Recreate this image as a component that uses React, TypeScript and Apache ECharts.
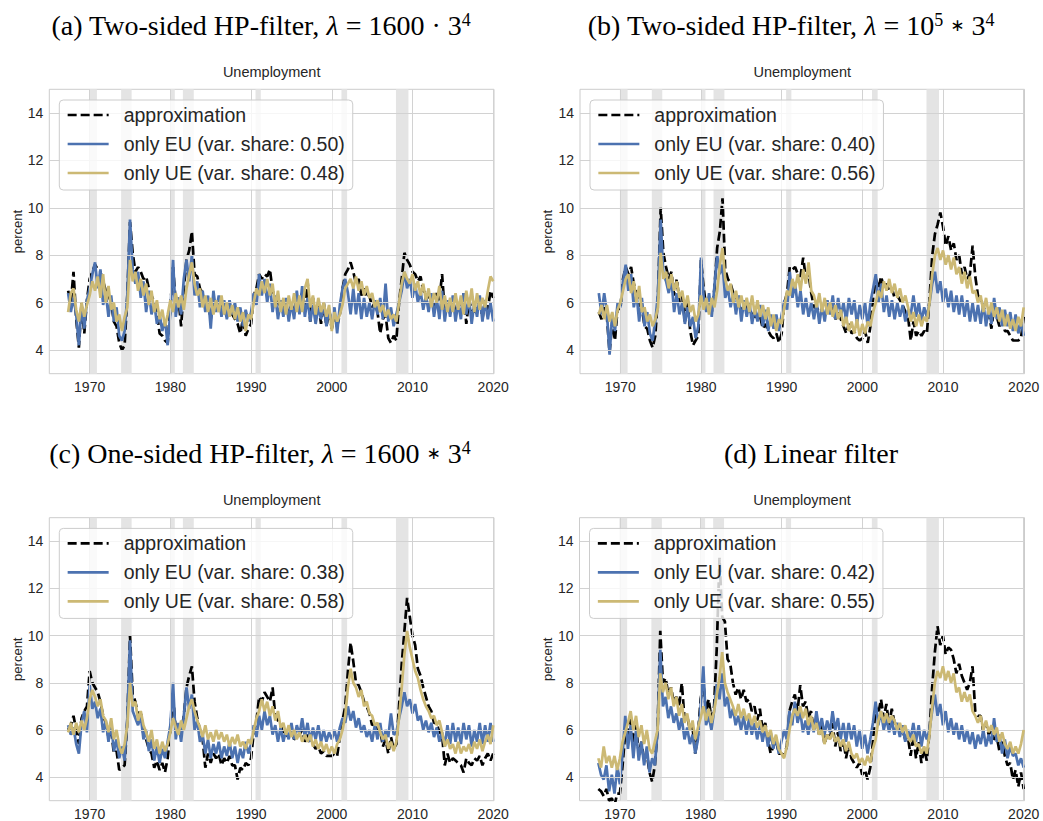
import React, { useEffect, useRef } from 'react';
import * as echarts from 'echarts';

// Sampling: every 4 months from 1967.33 to 2020.0
const START_YEAR = 1967 + 1 / 3;
const STEP = 1 / 3;

const RECESSIONS: [number, number][] = [
  [1969.95, 1970.9], [1973.9, 1975.2], [1980.0, 1980.55], [1981.55, 1982.9],
  [1990.55, 1991.2], [2001.2, 2001.9], [2007.95, 2009.5],
];
const X_TICKS = [1970, 1980, 1990, 2000, 2010, 2020];
const Y_TICKS = [4, 6, 8, 10, 12, 14];

// ---------- Panel (a) ----------
const AP_A = [
  6.5, 6.0,
  7.3, 5.3, 4.1, 6.0, 4.7, 6.1, 7.0, 7.3, 7.6, 7.4, 7.3, 6.9, 6.5, 6.3, 6.0,
  5.2, 5.0, 4.3, 4.0, 4.2, 6.3, 9.4, 8.1, 7.3, 7.5, 7.3, 7.0, 7.1, 6.6, 6.3,
  6.0, 5.6, 4.7, 4.6, 4.4, 4.3, 5.8, 7.5, 6.0, 6.2, 5.0, 6.6, 7.8, 8.2, 9.0,
  7.2, 7.1, 6.6, 6.4, 6.0, 6.0, 5.3, 6.1, 5.9, 6.0, 5.8, 5.7, 5.4, 5.6, 5.5,
  5.3, 5.1, 4.7, 5.3, 4.6, 4.9, 5.1, 6.3, 6.6, 7.2, 7.0, 7.2, 7.1, 7.4, 6.5,
  6.2, 6.0, 5.8, 5.8, 5.8, 5.6, 5.9, 5.6, 6.3, 6.0, 6.4, 5.9, 6.9, 5.2, 6.2,
  5.4, 6.0, 5.1, 6.0, 5.0, 5.6, 4.9, 5.4, 5.0, 5.5, 6.6, 7.2, 7.4, 7.7, 7.3,
  6.8, 7.0, 6.3, 6.6, 6.2, 6.3, 5.8, 6.0, 5.6, 4.7, 5.3, 5.5, 4.5, 4.3, 4.6,
  4.4, 6.0, 7.0, 8.1, 7.8, 7.6, 7.3, 7.2, 6.9, 7.1, 6.5, 6.4, 6.2, 6.3, 5.8,
  6.4, 6.1, 7.2, 5.6, 5.8, 5.6, 6.1, 5.6, 5.8, 5.6, 6.4, 5.1, 6.1, 5.7, 5.6,
  5.8, 6.2, 5.3, 6.1, 5.7, 6.5,
  6.2,
];
const EU_A = [
  6.4, 5.6,
  6.2, 5.5, 4.2, 5.9, 4.9, 6.1, 6.6, 7.2, 7.7, 6.6, 7.4, 5.9, 6.4, 5.4, 6.3,
  5.2, 5.8, 4.6, 4.4, 4.8, 6.3, 9.5, 7.4, 6.8, 7.3, 6.2, 6.9, 5.6, 6.5, 5.5,
  6.0, 5.1, 5.5, 4.8, 5.3, 4.2, 5.6, 7.8, 5.4, 6.2, 5.5, 7.0, 7.8, 6.9, 8.0,
  6.3, 6.9, 5.8, 6.5, 5.6, 6.3, 4.9, 6.5, 5.6, 6.3, 5.4, 6.1, 5.3, 6.1, 5.5,
  6.0, 5.2, 5.8, 5.0, 5.7, 5.2, 5.6, 6.4, 5.9, 7.2, 6.3, 7.0, 6.0, 6.8, 5.6,
  6.3, 5.3, 6.1, 5.4, 6.2, 5.2, 6.0, 5.3, 6.5, 5.5, 6.7, 5.4, 6.2, 5.2, 5.9,
  5.1, 5.8, 5.3, 6.0, 5.0, 5.7, 5.2, 5.8, 4.7, 5.9, 6.6, 7.0, 6.4, 5.5, 6.6,
  5.5, 6.4, 5.3, 6.2, 5.4, 6.0, 5.3, 6.1, 5.5, 6.2, 5.3, 6.8, 5.2, 5.8, 5.0,
  5.5, 6.0, 6.5, 7.3, 6.6, 7.0, 6.2, 6.8, 6.0, 6.5, 5.7, 6.3, 5.6, 6.4, 5.4,
  6.2, 5.3, 6.5, 5.2, 6.1, 5.4, 6.3, 5.2, 6.0, 5.3, 6.4, 5.5, 6.2, 5.1, 6.0,
  5.4, 6.3, 5.2, 6.1, 5.3, 6.0,
  5.2,
];
const UE_A = [
  5.6, 6.4,
  6.6, 5.7, 5.2, 6.0, 5.4, 5.9, 6.3, 6.9, 6.5, 7.1, 6.2, 7.2, 6.0, 6.7, 5.7,
  6.0, 5.2, 5.5, 4.8, 5.4, 5.8, 7.8, 6.9, 7.3, 6.5, 7.0, 6.3, 6.8, 5.9, 6.5,
  5.6, 6.1, 5.3, 5.7, 5.0, 5.5, 6.1, 5.6, 6.4, 5.8, 6.3, 5.7, 6.6, 7.2, 7.7,
  6.8, 6.3, 6.6, 5.8, 6.3, 5.6, 6.2, 5.5, 6.1, 5.6, 6.3, 5.5, 6.0, 5.4, 5.9,
  5.3, 5.8, 5.2, 5.6, 4.8, 5.5, 5.3, 6.0, 6.6, 6.3, 6.9, 6.4, 7.0, 6.3, 6.8,
  5.8, 6.5, 5.6, 6.2, 5.5, 6.3, 5.7, 6.4, 5.6, 6.3, 5.6, 6.6, 7.0, 5.8, 6.3,
  5.5, 6.2, 5.6, 6.0, 5.4, 5.9, 4.8, 5.6, 5.2, 5.5, 5.9, 6.6, 6.8, 7.0, 6.6,
  7.1, 6.5, 6.9, 6.3, 6.7, 6.2, 6.4, 5.8, 6.1, 5.6, 5.9, 5.4, 5.7, 5.3, 5.5,
  5.2, 6.0, 6.8, 7.3, 7.0, 6.8, 7.2, 6.5, 6.9, 6.3, 6.8, 6.1, 6.6, 5.8, 6.4,
  6.0, 6.7, 5.7, 6.3, 5.6, 6.2, 5.6, 6.4, 5.7, 6.3, 5.5, 6.5, 5.8, 6.6, 5.6,
  6.4, 5.7, 6.2, 5.8, 6.5, 7.1,
  6.9,
];

// ---------- Panel (b) ----------
const AP_B = [
  5.6, 5.3,
  5.8, 5.4, 3.9, 5.2, 4.4, 5.8, 5.7, 7.0, 7.5, 7.2, 7.5, 6.8, 6.4, 5.9, 5.8,
  5.0, 4.9, 4.4, 4.1, 4.6, 6.3, 10.0, 8.1, 7.5, 7.0, 7.3, 6.3, 7.0, 6.0, 6.3,
  5.2, 6.0, 4.8, 4.2, 4.4, 4.6, 7.8, 6.6, 5.8, 6.0, 5.6, 6.6, 8.3, 9.0, 10.4,
  7.4, 7.0, 6.8, 6.4, 6.2, 6.1, 5.6, 6.0, 5.7, 5.7, 5.5, 5.4, 5.4, 5.4, 4.9,
  5.1, 4.8, 4.6, 4.5, 4.7, 4.3, 4.7, 6.0, 6.4, 7.5, 7.4, 7.5, 7.2, 7.1, 7.9,
  7.0, 7.2, 6.4, 5.8, 5.8, 5.6, 5.6, 5.5, 5.7, 5.6, 5.8, 5.3, 5.6, 5.3, 5.0,
  4.7, 5.1, 4.7, 4.8, 4.5, 4.4, 4.5, 4.8, 4.3, 5.0, 6.2, 7.0, 6.6, 7.1, 6.6,
  6.8, 6.5, 6.6, 6.2, 6.3, 6.1, 5.9, 5.6, 5.4, 4.4, 5.2, 4.6, 4.8, 4.6, 4.8,
  4.7, 6.2, 8.0, 8.9, 9.3, 9.8, 9.2, 8.4, 8.8, 8.2, 8.5, 7.8, 8.0, 7.2, 7.5,
  7.0, 7.2, 8.4, 7.1, 6.3, 6.2, 5.8, 5.6, 5.6, 4.9, 5.8, 5.4, 5.0, 5.3, 4.8,
  4.8, 4.6, 4.4, 4.4, 4.4, 4.5,
  5.4,
];
const EU_B = [
  6.4, 5.5,
  6.4, 5.6, 3.8, 5.5, 4.8, 6.0, 5.8, 6.9, 7.6, 6.5, 7.2, 5.8, 6.4, 5.2, 6.2,
  5.0, 5.6, 4.7, 4.4, 5.2, 6.4, 9.5, 7.2, 6.9, 6.4, 7.0, 5.6, 6.4, 5.5, 6.0,
  5.1, 5.8, 5.0, 5.4, 4.5, 5.0, 7.9, 6.2, 5.6, 6.4, 5.4, 6.7, 8.0, 7.2, 7.6,
  6.2, 6.6, 5.8, 6.4, 5.5, 6.3, 5.2, 6.1, 5.4, 6.0, 5.1, 5.8, 5.2, 5.9, 5.0,
  5.7, 4.8, 5.5, 4.9, 5.5, 4.8, 5.5, 6.1, 5.7, 7.3, 6.2, 6.8, 5.8, 6.5, 5.5,
  6.2, 5.4, 6.0, 5.3, 6.0, 5.1, 5.9, 5.2, 6.1, 5.5, 6.3, 5.3, 6.2, 5.4, 6.0,
  5.2, 6.2, 5.5, 6.1, 5.1, 5.9, 5.3, 6.0, 5.0, 6.0, 6.6, 7.2, 6.0, 6.8, 5.6,
  6.3, 5.4, 6.1, 5.3, 6.0, 5.4, 5.9, 5.2, 5.7, 5.5, 6.3, 5.4, 6.0, 5.2, 5.8,
  5.4, 6.0, 6.8, 7.3, 6.4, 6.9, 6.0, 6.6, 5.8, 6.5, 5.6, 6.3, 5.5, 6.3, 5.4,
  6.1, 5.2, 6.0, 5.2, 5.9, 5.1, 6.0, 5.0, 5.8, 5.1, 6.2, 5.3, 5.8, 5.0, 5.7,
  5.0, 5.6, 4.8, 5.5, 4.7, 5.2,
  4.6,
];
const UE_B = [
  5.5, 5.9,
  5.3, 5.9, 5.2, 5.6, 5.0, 5.7, 6.0, 6.5, 7.0, 7.2, 6.4, 6.9, 6.0, 6.7, 5.6,
  5.8, 5.2, 5.5, 5.0, 5.3, 5.8, 8.1, 7.0, 7.3, 6.6, 7.2, 6.5, 6.9, 6.2, 6.5,
  5.8, 6.3, 5.6, 5.9, 5.2, 5.5, 6.3, 5.7, 6.2, 5.5, 6.2, 5.8, 6.5, 7.6, 8.3,
  7.0, 6.5, 6.8, 6.0, 6.5, 5.8, 6.3, 5.7, 6.2, 5.6, 6.3, 5.5, 6.1, 5.4, 5.9,
  5.3, 5.8, 5.0, 5.5, 4.8, 5.3, 5.1, 5.8, 6.5, 6.3, 7.0, 6.6, 7.2, 6.5, 7.4,
  6.8, 7.7, 6.5, 6.3, 5.8, 6.4, 5.6, 6.2, 5.5, 6.0, 5.4, 5.9, 5.3, 5.7, 5.0,
  5.4, 4.8, 5.2, 4.7, 5.3, 4.6, 5.1, 4.7, 5.2, 5.0, 5.6, 6.0, 6.5, 6.2, 6.9,
  6.5, 7.0, 6.4, 6.8, 6.2, 6.6, 6.0, 6.3, 5.8, 5.2, 5.6, 5.0, 5.5, 5.0, 5.4,
  5.2, 6.0, 7.2, 8.0, 8.3, 7.8, 8.2, 7.6, 8.0, 7.4, 7.9, 7.2, 7.5, 6.8, 7.3,
  6.6, 7.1, 6.4, 6.5, 6.0, 6.3, 5.6, 6.2, 5.5, 6.0, 5.4, 5.8, 5.2, 5.7, 5.0,
  5.5, 4.9, 5.3, 4.8, 5.4, 5.0,
  5.8,
];

// ---------- Panel (c) ----------
const AP_C = [
  6.0, 6.2,
  6.6, 6.0, 5.4, 6.5, 6.8, 7.0, 8.5, 8.0, 7.8, 7.6, 7.2, 6.6, 6.3, 5.7, 6.0,
  5.0, 5.1, 4.3, 4.4, 4.5, 6.4, 10.0, 7.5, 7.2, 6.6, 6.8, 5.8, 5.6, 5.2, 5.0,
  4.4, 4.7, 4.3, 4.6, 4.2, 4.8, 6.0, 7.5, 6.0, 6.1, 5.9, 6.6, 7.8, 8.3, 8.7,
  7.2, 6.5, 6.0, 5.6, 4.4, 5.0, 4.6, 5.0, 4.8, 5.0, 4.5, 4.8, 4.6, 4.9, 4.5,
  4.5, 3.9, 4.4, 4.3, 4.6, 4.5, 4.8, 5.9, 6.4, 7.4, 7.2, 7.6, 7.4, 7.2, 7.8,
  6.6, 6.4, 6.2, 5.8, 5.8, 5.7, 6.0, 5.6, 5.7, 5.8, 6.0, 5.5, 5.8, 5.4, 5.4,
  5.2, 5.3, 5.0, 5.1, 4.9, 4.9, 4.9, 5.0, 4.9, 5.7, 6.4, 7.0, 8.5, 9.7, 8.9,
  8.0, 7.9, 7.6, 7.2, 7.0, 6.7, 6.2, 6.3, 5.9, 6.0, 5.3, 5.6, 5.0, 5.7, 5.2,
  5.4, 7.0, 8.8, 10.2, 11.6, 10.8, 10.0, 9.6, 8.6, 8.3, 7.8, 7.4, 7.0, 6.8, 6.3,
  6.3, 5.9, 5.8, 4.5, 5.0, 4.6, 4.8, 4.7, 4.6, 4.5, 4.2, 4.8, 4.6, 4.5, 4.8,
  4.7, 4.9, 4.5, 4.8, 5.0, 4.7,
  5.0,
];
const EU_C = [
  6.2, 5.8,
  6.1, 5.4, 5.0, 6.3, 6.8, 5.9, 7.9, 6.9, 7.2, 6.5, 6.9, 5.9, 6.4, 5.5, 6.3,
  5.1, 5.6, 4.8, 5.3, 4.7, 6.5, 9.8, 6.8, 6.5, 6.2, 6.6, 5.6, 6.0, 5.1, 5.6,
  4.7, 5.3, 4.6, 5.2, 4.8, 5.5, 6.2, 8.0, 5.6, 6.3, 5.5, 6.6, 7.8, 6.9, 7.5,
  6.0, 6.4, 5.5, 5.8, 5.0, 5.6, 4.8, 5.4, 5.0, 5.5, 4.8, 5.3, 4.9, 5.5, 4.8,
  5.3, 4.6, 5.2, 4.8, 5.5, 5.0, 5.4, 6.2, 5.7, 6.6, 6.0, 6.8, 6.2, 6.6, 5.8,
  6.2, 5.5, 6.1, 5.5, 6.0, 5.6, 6.3, 5.6, 6.2, 5.8, 6.5, 5.7, 6.3, 5.5, 6.1,
  5.6, 6.2, 5.5, 6.0, 5.5, 5.9, 5.6, 6.0, 5.5, 6.1, 6.5, 6.3, 7.0, 6.4, 6.8,
  6.1, 6.5, 5.9, 6.2, 5.7, 6.0, 5.5, 6.2, 5.6, 6.3, 5.5, 6.0, 5.7, 6.7, 5.8,
  5.9, 6.5, 7.0, 7.6, 7.0, 7.3, 6.7, 7.1, 6.4, 6.6, 6.0, 6.4, 5.9, 6.3, 5.7,
  6.1, 5.5, 5.9, 5.3, 6.2, 5.4, 6.3, 5.5, 6.1, 5.4, 6.3, 5.6, 6.2, 5.3, 6.0,
  5.5, 6.3, 5.4, 6.2, 5.5, 6.3,
  5.5,
];
const UE_C = [
  5.9, 6.3,
  5.8, 6.3, 5.9, 6.4, 6.0, 6.5, 7.3, 7.7, 7.4, 7.0, 7.3, 6.6, 6.4, 5.9, 6.5,
  5.6, 6.0, 5.3, 5.0, 5.4, 6.2, 8.0, 7.0, 7.2, 6.4, 6.8, 6.2, 5.9, 5.5, 6.0,
  5.2, 5.6, 5.0, 5.5, 5.1, 5.4, 5.9, 6.5, 6.1, 5.8, 6.4, 6.0, 6.5, 7.0, 7.3,
  6.8, 6.4, 6.1, 5.7, 6.2, 5.6, 5.9, 5.5, 6.0, 5.6, 5.9, 5.5, 5.8, 5.3, 5.7,
  5.4, 5.8, 5.3, 5.5, 5.2, 5.6, 5.4, 6.0, 6.5, 6.8, 7.3, 6.8, 7.2, 6.6, 7.0,
  6.4, 6.8, 6.1, 6.3, 5.8, 6.2, 5.7, 6.0, 5.6, 5.9, 5.5, 5.8, 5.5, 5.8, 5.3,
  5.6, 5.2, 5.5, 5.1, 5.4, 5.0, 5.3, 5.0, 5.4, 5.6, 6.0, 6.6, 7.8, 8.6, 8.0,
  7.8, 7.4, 7.7, 7.0, 7.2, 6.7, 6.6, 6.2, 6.3, 5.9, 5.6, 5.8, 5.2, 5.5, 5.1,
  5.5, 6.5, 7.8, 9.2, 10.2, 9.5, 9.0, 8.5, 8.2, 7.7, 7.3, 7.0, 6.8, 6.5, 6.6,
  6.2, 6.4, 5.9, 5.3, 5.6, 5.2, 5.4, 5.0, 5.5, 5.0, 5.3, 5.1, 5.4, 5.0, 5.5,
  5.2, 5.6, 5.1, 5.5, 5.8, 5.4,
  6.2,
];

// ---------- Panel (d) ----------
const AP_D = [
  3.5, 3.4,
  3.2, 3.5, 3.0, 3.1, 2.8, 3.3, 3.3, 4.5, 5.9, 5.8, 6.6, 5.4, 6.2, 5.0, 5.5,
  4.7, 5.0, 4.2, 3.8, 4.5, 6.0, 10.2, 8.0, 8.2, 7.5, 7.8, 7.2, 7.4, 7.0, 8.0,
  6.5, 6.6, 6.0, 6.1, 5.0, 5.8, 7.3, 8.0, 6.8, 7.3, 6.5, 7.0, 9.5, 13.3, 10.8,
  10.6, 9.0, 8.8, 8.0, 7.5, 7.8, 7.3, 7.7, 7.2, 7.3, 6.8, 7.0, 6.4, 6.9, 6.0,
  6.3, 5.6, 5.0, 5.3, 5.6, 5.0, 5.0, 4.9, 5.3, 6.8, 7.2, 7.5, 6.8, 7.9, 7.0,
  7.2, 6.5, 6.8, 6.0, 6.6, 5.8, 6.2, 5.4, 5.8, 5.6, 6.3, 5.3, 5.9, 5.1, 5.6,
  4.8, 5.4, 4.8, 4.6, 4.4, 4.6, 4.1, 4.3, 3.9, 4.4, 5.5, 7.0, 6.7, 7.3, 6.5,
  7.1, 6.2, 6.9, 6.3, 6.2, 5.9, 6.0, 5.6, 5.7, 4.9, 5.8, 4.8, 5.5, 4.6, 5.2,
  4.7, 5.9, 7.8, 9.3, 10.4, 9.6, 10.0, 9.2, 9.5, 9.4, 9.0, 8.4, 8.8, 8.3, 8.0,
  7.7, 8.0, 8.7, 6.8, 6.6, 6.6, 5.9, 6.3, 5.8, 6.0, 5.6, 5.7, 5.1, 5.5, 4.9,
  4.5, 4.6, 3.9, 4.3, 3.6, 4.2,
  3.5,
];
const EU_D = [
  4.6, 4.1,
  3.9, 4.5, 3.4, 4.1, 3.3, 4.4, 3.7, 5.0, 6.6, 5.2, 6.2, 4.8, 6.0, 4.7, 5.5,
  4.5, 5.3, 4.2, 4.8, 4.5, 6.0, 9.4, 7.0, 7.4, 6.5, 7.0, 6.3, 6.7, 6.0, 6.5,
  5.6, 6.1, 5.4, 5.8, 5.0, 5.6, 7.0, 8.7, 6.2, 6.6, 6.0, 6.8, 8.0, 7.3, 8.4,
  7.0, 7.4, 6.5, 6.9, 6.2, 6.6, 6.0, 6.6, 5.8, 6.5, 5.8, 6.3, 5.6, 6.2, 5.5,
  6.1, 5.3, 5.9, 5.2, 5.7, 5.0, 5.5, 6.0, 5.6, 6.8, 6.2, 7.2, 6.3, 6.8, 5.9,
  6.4, 5.8, 6.5, 5.9, 6.8, 6.0, 6.5, 5.8, 6.4, 5.9, 6.8, 6.0, 6.5, 5.6, 6.3,
  5.5, 6.3, 5.6, 6.2, 5.3, 6.0, 5.2, 5.8, 5.0, 5.6, 6.3, 7.2, 6.2, 6.8, 6.0,
  6.5, 5.9, 6.4, 5.8, 6.3, 5.7, 6.2, 5.5, 6.0, 5.6, 6.3, 5.5, 6.2, 5.3, 6.0,
  5.6, 6.0, 6.8, 7.5, 6.6, 7.1, 6.2, 6.8, 5.9, 6.5, 5.8, 6.3, 5.6, 6.2, 5.5,
  6.0, 5.4, 5.9, 5.2, 5.8, 5.4, 6.0, 5.3, 5.8, 5.4, 6.5, 5.5, 5.8, 5.0, 5.6,
  4.8, 5.3, 4.9, 5.0, 4.5, 4.8,
  4.4,
];
const UE_D = [
  4.8, 4.4,
  5.3, 4.6, 4.9, 4.4, 4.9, 4.3, 4.8, 5.5, 5.9, 6.3, 6.8, 6.0, 6.6, 5.7, 6.2,
  5.4, 6.0, 5.2, 5.0, 5.5, 6.0, 8.4, 7.6, 8.0, 7.3, 7.8, 7.0, 7.4, 6.6, 7.1,
  6.3, 6.7, 6.0, 6.4, 5.6, 6.1, 6.5, 7.0, 6.4, 6.9, 6.3, 6.8, 7.5, 8.2, 9.3,
  8.0, 7.6, 7.3, 7.0, 6.6, 7.1, 6.5, 6.9, 6.4, 6.7, 6.2, 6.6, 6.1, 6.4, 5.9,
  6.2, 5.7, 6.0, 5.4, 5.8, 5.2, 5.0, 4.8, 5.3, 6.0, 6.6, 6.9, 6.6, 7.0, 6.5,
  6.9, 6.2, 6.6, 6.0, 6.3, 5.8, 6.0, 5.4, 5.8, 5.6, 5.9, 5.5, 5.7, 5.3, 5.6,
  5.1, 5.5, 5.0, 4.8, 5.0, 4.6, 4.8, 4.5, 4.9, 4.6, 5.2, 5.6, 6.4, 6.8, 6.3,
  6.7, 6.3, 6.6, 6.4, 6.0, 6.3, 5.9, 6.2, 5.7, 5.5, 5.8, 5.3, 5.4, 5.0, 5.3,
  5.0, 5.8, 7.0, 8.0, 8.5, 8.2, 8.7, 8.1, 8.5, 8.0, 8.4, 7.6, 7.8, 7.2, 7.6,
  7.2, 7.5, 6.8, 6.6, 6.3, 6.6, 6.0, 6.4, 5.9, 6.2, 5.8, 6.1, 5.5, 5.9, 5.4,
  5.2, 5.5, 5.0, 5.3, 5.0, 5.4,
  6.0,
];

const EU_SHARES = ['0.50', '0.40', '0.38', '0.42'];
const UE_SHARES = ['0.48', '0.56', '0.58', '0.55'];

const CAPTIONS = [
  '(a) Two-sided HP-filter, {i|λ} = 1600 · 3{s|4}',
  '(b) Two-sided HP-filter, {i|λ} = 10{s|5} {a|∗} 3{s|4}',
  '(c) One-sided HP-filter, {i|λ} = 1600 {a|∗} 3{s|4}',
  '(d) Linear filter',
];

const SANS = "'Liberation Sans', Arial, sans-serif";
const SERIF = "'Liberation Serif', 'Times New Roman', serif";
const TEXT_COLOR = '#262626';
const BLUE = '#4c72b0';
const GOLD = '#ccb974';

const GRIDS = [
  { left: 49.3, top: 89.3, width: 444.7, height: 284.4 },
  { left: 580, top: 89.3, width: 444.5, height: 284.4 },
  { left: 49.3, top: 517.7, width: 444.7, height: 283 },
  { left: 579.5, top: 517.7, width: 445, height: 283 },
];
const CAPTION_POS = [
  { x: 261, y: 25 }, { x: 791, y: 25 }, { x: 260, y: 453 }, { x: 811, y: 453 },
];

const toPoints = (vals: number[]) => vals.map((v, i) => [START_YEAR + i * STEP, v]);

export default function App() {
  const ref = useRef<HTMLDivElement>(null);
  useEffect(() => {
    if (!ref.current) return;
    const chart = echarts.init(ref.current, undefined, { renderer: 'svg' });
    const panels = [
      { ap: AP_A, eu: EU_A, ue: UE_A },
      { ap: AP_B, eu: EU_B, ue: UE_B },
      { ap: AP_C, eu: EU_C, ue: UE_C },
      { ap: AP_D, eu: EU_D, ue: UE_D },
    ];
    const series: any[] = [];
    const legends: any[] = [];
    const graphics: any[] = [];
    panels.forEach((p, i) => {
      const euName = `only EU (var. share: ${EU_SHARES[i]})`;
      const ueName = `only UE (var. share: ${UE_SHARES[i]})`;
      series.push({
        type: 'line', xAxisIndex: i, yAxisIndex: i, data: [], z: 1, silent: true,
        markArea: {
          silent: true,
          itemStyle: { color: '#e4e4e4' },
          data: RECESSIONS.map(([a, b]) => [{ xAxis: a }, { xAxis: b }]),
        },
      });
      series.push({
        type: 'line', xAxisIndex: i, yAxisIndex: i, data: [], z: 2, silent: true,
        markLine: {
          silent: true, symbol: ['none', 'none'], label: { show: false },
          lineStyle: { color: '#d2d2d2', width: 1, type: 'solid' },
          data: [...X_TICKS.map((v) => ({ xAxis: v })), ...Y_TICKS.map((v) => ({ yAxis: v }))],
        },
      });
      series.push({
        type: 'line', name: 'approximation', xAxisIndex: i, yAxisIndex: i, data: toPoints(p.ap),
        symbol: 'none', showSymbol: false, color: '#000000', z: 3, silent: true,
        lineStyle: { color: '#000000', width: 2.7, type: [9, 4] },
      });
      series.push({
        type: 'line', name: euName, xAxisIndex: i, yAxisIndex: i, data: toPoints(p.eu),
        symbol: 'none', showSymbol: false, color: BLUE, z: 4, silent: true,
        lineStyle: { color: BLUE, width: 2.7 },
      });
      series.push({
        type: 'line', name: ueName, xAxisIndex: i, yAxisIndex: i, data: toPoints(p.ue),
        symbol: 'none', showSymbol: false, color: GOLD, z: 5, silent: true,
        lineStyle: { color: GOLD, width: 2.7 },
      });
      const g = GRIDS[i];
      legends.push({
        orient: 'vertical', left: g.left + 10, top: g.top + 10.7,
        data: ['approximation', euName, ueName],
        itemWidth: 41, itemHeight: 12, itemGap: 9,
        padding: [5, 8, 7, 7],
        itemStyle: { opacity: 0 },
        lineStyle: { width: 2.7 },
        backgroundColor: 'rgba(255,255,255,0.8)', borderColor: '#cccccc', borderWidth: 1, borderRadius: 4,
        textStyle: { fontSize: 19.5, fontFamily: SANS, color: TEXT_COLOR, padding: [0, 0, 0, 10] },
        selectedMode: false, z: 10,
      });
      graphics.push({
        type: 'text', x: g.left + g.width / 2, y: g.top - 17.5, z: 20,
        style: {
          text: 'Unemployment', fontSize: 14.5, fontFamily: SANS, fill: TEXT_COLOR,
          align: 'center', verticalAlign: 'middle', textAlign: 'center', textVerticalAlign: 'middle',
        },
      });
      graphics.push({
        type: 'text', x: g.left - 32.3, y: g.top + g.height / 2, rotation: Math.PI / 2, z: 20,
        style: {
          text: 'percent', fontSize: 13, fontFamily: SANS, fill: TEXT_COLOR,
          align: 'center', verticalAlign: 'middle', textAlign: 'center', textVerticalAlign: 'middle',
        },
      });
      graphics.push({
        type: 'text', x: CAPTION_POS[i].x, y: CAPTION_POS[i].y, z: 20,
        style: {
          text: CAPTIONS[i], fontSize: 28, fontFamily: SERIF, fill: '#000000',
          align: 'center', verticalAlign: 'middle', textAlign: 'center', textVerticalAlign: 'middle',
          rich: {
            i: { fontSize: 28, fontFamily: SERIF, fontStyle: 'italic', fill: '#000000' },
            s: { fontSize: 18, fontFamily: SERIF, fill: '#000000', verticalAlign: 'top' },
            a: { fontSize: 17, fontFamily: "'DejaVu Sans', sans-serif", fill: '#000000' },
          },
        },
      });
    });

    const axisLabelBase = { fontSize: 14, fontFamily: SANS, color: TEXT_COLOR };
    chart.setOption({
      animation: false,
      backgroundColor: '#ffffff',
      grid: GRIDS.map((g) => ({
        ...g, show: true, borderColor: '#cccccc', borderWidth: 1, backgroundColor: 'transparent',
        containLabel: false,
      })),
      xAxis: GRIDS.map((_, i) => ({
        type: 'value', gridIndex: i, min: 1965, max: 2020.1, interval: 5,
        axisLine: { show: false }, axisTick: { show: false }, splitLine: { show: false },
        axisLabel: { ...axisLabelBase, margin: 6, formatter: (v: number) => (Math.abs(v % 10) < 1e-6 ? String(Math.round(v)) : '') },
      })),
      yAxis: GRIDS.map((_, i) => ({
        type: 'value', gridIndex: i, min: 3, max: 15, interval: 1,
        axisLine: { show: false }, axisTick: { show: false }, splitLine: { show: false },
        axisLabel: { ...axisLabelBase, margin: 6, formatter: (v: number) => (Math.round(v) % 2 === 0 && Math.abs(v - Math.round(v)) < 1e-6 ? String(Math.round(v)) : '') },
      })),
      legend: legends,
      series,
      graphic: { elements: graphics },
    });
    return () => chart.dispose();
  }, []);
  return (
    <div
      ref={ref}
      style={{ position: 'fixed', left: 0, top: 0, width: 1043, height: 821, background: '#fff' }}
    />
  );
}
